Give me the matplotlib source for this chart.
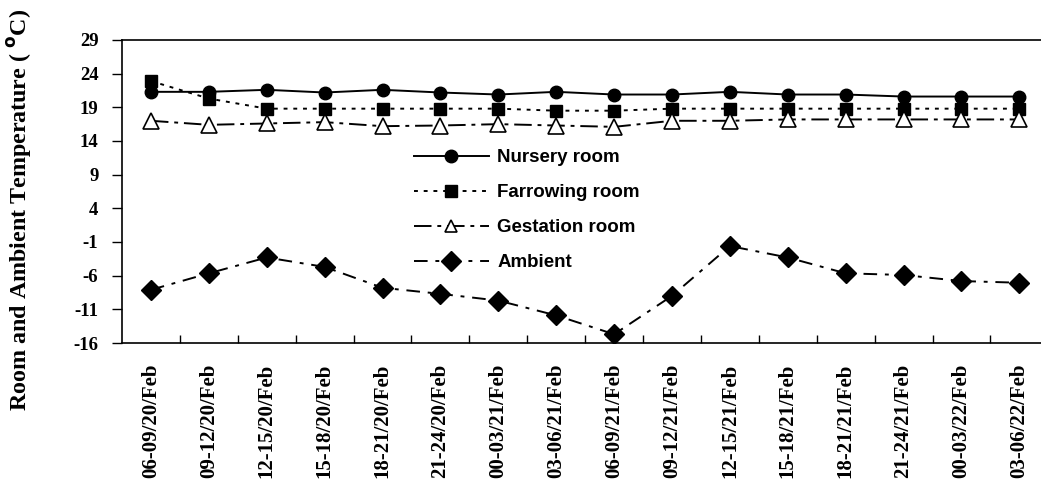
import numpy as np
import matplotlib.pyplot as plt

periods = ['06-09/20/Feb', '09-12/20/Feb', '12-15/20/Feb', '15-18/20/Feb',
           '18-21/20/Feb', '21-24/20/Feb', '00-03/21/Feb', '03-06/21/Feb',
           '06-09/21/Feb', '09-12/21/Feb', '12-15/21/Feb', '15-18/21/Feb',
           '18-21/21/Feb', '21-24/21/Feb', '00-03/22/Feb', '03-06/22/Feb']
nursery = [21.3, 21.3, 21.6, 21.2, 21.6, 21.2, 20.9, 21.3,
           20.9, 20.9, 21.3, 20.9, 20.9, 20.6, 20.6, 20.6]
farrowing = [22.9, 20.3, 18.8, 18.8, 18.8, 18.8, 18.8, 18.5,
             18.5, 18.8, 18.8, 18.8, 18.8, 18.8, 18.8, 18.8]
gestation = [17.0, 16.4, 16.6, 16.8, 16.2, 16.3, 16.5, 16.3,
             16.1, 17.0, 17.0, 17.2, 17.2, 17.2, 17.2, 17.2]
ambient = [-8.1, -5.65, -3.3, -4.7, -7.8, -8.7, -9.7, -11.9,
           -14.7, -9.0, -1.6, -3.3, -5.65, -5.9, -6.8, -7.05]
yticks = [-16, -11, -6, -1, 4, 9, 14, 19, 24, 29]

serif = 'Liberation Serif'
sans = 'Liberation Sans'

fig = plt.figure(figsize=(10.41, 4.84), dpi=100)
ax = fig.add_axes([0.1172, 0.2913, 1.007 - 0.1172, 0.9174 - 0.2913])
x = np.arange(len(periods))

ax.plot(x, nursery, '-', color='black', lw=1.4, marker='o', ms=9,
        label='Nursery room')
ax.plot(x, farrowing, color='black', lw=1.4, ls=(0, (2, 3)), marker='s', ms=8.5,
        label='Farrowing room')
ax.plot(x, gestation, color='black', lw=1.4, ls=(0, (9, 3, 2, 3)), marker='^',
        ms=12, mfc='white', mec='black', mew=1.2, label='Gestation room')
ax.plot(x, ambient, color='black', lw=1.4, ls=(0, (7, 4, 2, 4)), marker='D',
        ms=10, label='Ambient')

ax.set_xlim(-0.5, len(periods) - 0.5)
ax.set_ylim(-16, 29)
ax.set_yticks(yticks)
ax.set_yticklabels([str(v) for v in yticks], fontfamily=serif,
                   fontweight='bold', fontsize=13.5)
ax.set_xticks(x)
ax.set_xticklabels(periods, rotation=90, fontfamily=serif, fontweight='bold',
                   fontsize=15)
ax.tick_params(axis='x', which='major', length=0, pad=15)
ax.set_xticks(np.arange(0.5, len(periods) - 1, 1), minor=True)
ax.tick_params(axis='x', which='minor', direction='in', length=6, width=1)
ax.tick_params(axis='y', direction='out', length=7, width=1, pad=10)
for s in ax.spines.values():
    s.set_linewidth(1.2)

leg = ax.legend(loc='upper left', bbox_to_anchor=(0.297, 0.695), frameon=False,
                prop={'family': sans, 'weight': 'bold', 'size': 13.5},
                handlelength=4.0, handletextpad=0.45, labelspacing=0.95)
for h, m in zip(leg.legend_handles, [9, 9, 9, 10]):
    h.set_markersize(m)

fig.text(0.019, 0.566, 'Room and Ambient Temperature ( $^{\\mathbf{o}}$C)',
         rotation=90, ha='center', va='center', fontfamily=serif,
         fontweight='bold', fontsize=17.3)

plt.savefig('out.png', dpi=100)
plt.close()
